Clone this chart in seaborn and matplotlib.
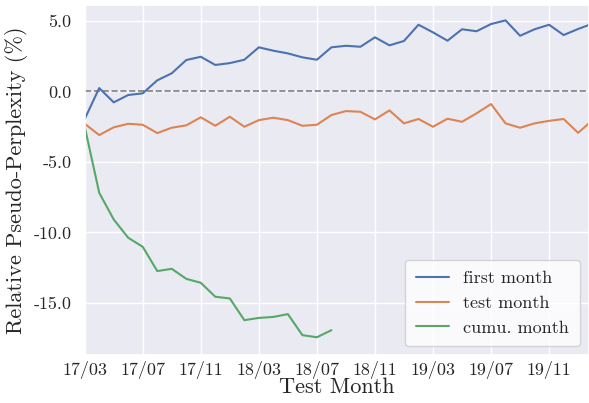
import matplotlib

matplotlib.use("Agg")
import matplotlib.pyplot as plt
import numpy as np
import pandas as pd
import seaborn as sns

######Data (relative pseudo-perplexity, %)
first_month = [-1.96, 0.23, -0.78, -0.26, -0.14, 0.78, 1.28, 2.22, 2.45, 1.87,
               2.00, 2.24, 3.12, 2.88, 2.69, 2.41, 2.24, 3.12, 3.23, 3.16,
               3.83, 3.26, 3.57, 4.72, 4.18, 3.59, 4.40, 4.26, 4.77, 5.03,
               3.94, 4.40, 4.72, 3.99, 4.42, 4.80]
test_month = [-2.30, -3.10, -2.55, -2.30, -2.37, -2.96, -2.58, -2.41, -1.84, -2.44,
              -1.80, -2.51, -2.04, -1.87, -2.04, -2.44, -2.37, -1.68, -1.40, -1.45,
              -1.99, -1.35, -2.27, -1.96, -2.51, -1.94, -2.16, -1.56, -0.90, -2.27,
              -2.58, -2.27, -2.09, -1.96, -2.94, -2.04]
cumu_month = [-2.50, -7.19, -9.08, -10.38, -11.02, -12.74, -12.58, -13.29, -13.57,
              -14.56, -14.68, -16.22, -16.06, -15.99, -15.79, -17.28, -17.43, -16.93]

tick_labels = ["17/03", "17/07", "17/11", "18/03", "18/07",
               "18/11", "19/03", "19/07", "19/11"]

series = {
    "first month": first_month,
    "test month": test_month,
    "cumu. month": cumu_month,
}
frames = []
for name, vals in series.items():
    frames.append(pd.DataFrame({"month": np.arange(len(vals)), "value": vals, "setting": name}))
df = pd.concat(frames, ignore_index=True)

sns.set_theme(style="darkgrid", palette="deep")
plt.rcParams["font.family"] = ["cmr10", "DejaVu Serif"]
plt.rcParams["axes.formatter.use_mathtext"] = True
plt.rcParams["axes.unicode_minus"] = False

fig = plt.figure(figsize=(5.89, 4.03), dpi=100)
ax = fig.add_axes([0.1438, 0.118, 0.8562, 0.8696])

sns.lineplot(data=df, x="month", y="value", hue="setting", ax=ax, linewidth=1.5)
ax.axhline(0, color="gray", linestyle="--", linewidth=1.2, zorder=1)

ax.set_xticks(np.arange(0, 4 * len(tick_labels), 4))
ax.set_xticklabels(tick_labels, fontsize=13)
ax.set_yticks([-15, -10, -5, 0, 5])
ax.set_yticklabels([f"{v:.1f}" for v in [-15, -10, -5, 0, 5]], fontsize=13)
ax.tick_params(axis="x", pad=-2)
ax.set_xlim(0, 34.75)
ax.set_ylim(-18.72, 6.12)
ax.set_xlabel("Test Month", fontsize=16, labelpad=-1)
ax.set_ylabel("Relative Pseudo-Perplexity (%)", fontsize=16)

ax.legend(loc="lower right", fontsize=13, title=None, facecolor="white",
          borderpad=0.6, handlelength=1.8)

fig.savefig("out.png", dpi=100)
plt.close(fig)
